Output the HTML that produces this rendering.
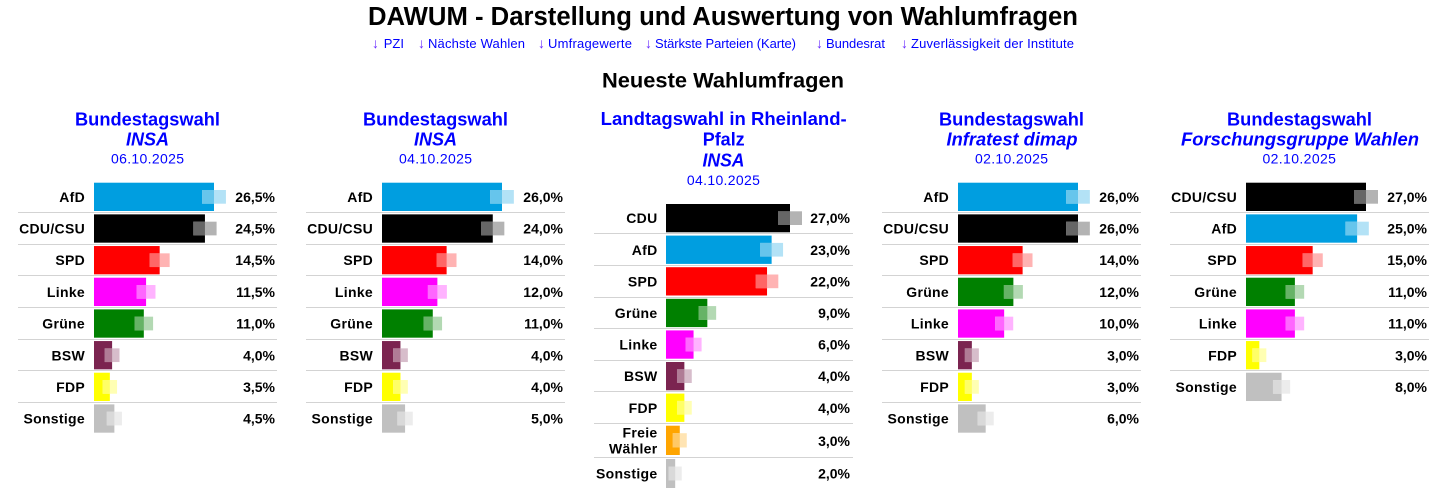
<!DOCTYPE html>
<html>
<head>
<meta charset="utf-8">
<style>
html,body{margin:0;padding:0;background:#fff;}
svg{display:block;}
text{font-family:"Liberation Sans",Arial,sans-serif;}
.t{font-weight:bold;font-size:25.5px;fill:#000;text-anchor:middle;}
.h{font-weight:bold;font-size:21.5px;fill:#000;text-anchor:middle;}
.ln{font-size:13px;fill:#0000ff;}
.ar{fill:#6a2cff;font-size:14px;}
.pt{font-weight:bold;font-size:18px;fill:#0000ff;text-anchor:middle;}
.pi{font-weight:bold;font-style:italic;font-size:18px;fill:#0000ff;text-anchor:middle;}
.pd{font-size:14px;fill:#0000ff;text-anchor:middle;}
.l{font-weight:bold;font-size:14px;fill:#000;text-anchor:end;letter-spacing:0.3px;}
.v{font-weight:bold;font-size:14px;fill:#000;text-anchor:end;}
.s{fill:#d3d3d3;}
</style>
</head>
<body>
<svg width="1444" height="488" viewBox="0 0 1444 488" xmlns="http://www.w3.org/2000/svg">
<rect x="0" y="0" width="1444" height="488" fill="#fff"/>

<!-- Header -->
<text class="t" x="723" y="25" textLength="710" lengthAdjust="spacingAndGlyphs">DAWUM - Darstellung und Auswertung von Wahlumfragen</text>

<text class="ln ar" x="372" y="48">↓</text><text class="ln" x="404" y="48" text-anchor="end">PZI</text>
<text class="ln ar" x="418" y="48">↓</text><text class="ln" x="428" y="48" textLength="97" lengthAdjust="spacing">Nächste Wahlen</text>
<text class="ln ar" x="538" y="48">↓</text><text class="ln" x="548" y="48" textLength="84" lengthAdjust="spacing">Umfragewerte</text>
<text class="ln ar" x="645" y="48">↓</text><text class="ln" x="655" y="48" textLength="141" lengthAdjust="spacing">Stärkste Parteien (Karte)</text>
<text class="ln ar" x="816" y="48">↓</text><text class="ln" x="826" y="48" textLength="59" lengthAdjust="spacing">Bundesrat</text>
<text class="ln ar" x="901" y="48">↓</text><text class="ln" x="911" y="48" textLength="163" lengthAdjust="spacing">Zuverlässigkeit der Institute</text>

<text class="h" x="723" y="87.3" textLength="242" lengthAdjust="spacingAndGlyphs">Neueste Wahlumfragen</text>

<!-- Panel titles -->
<text class="pt" x="147.5" y="125.7" textLength="145" lengthAdjust="spacingAndGlyphs">Bundestagswahl</text>
<text class="pi" x="147.5" y="145.7" textLength="43" lengthAdjust="spacingAndGlyphs">INSA</text>
<text class="pd" x="147.5" y="163.3" textLength="73" lengthAdjust="spacing">06.10.2025</text>

<text class="pt" x="435.5" y="125.7" textLength="145" lengthAdjust="spacingAndGlyphs">Bundestagswahl</text>
<text class="pi" x="435.5" y="145.7" textLength="43" lengthAdjust="spacingAndGlyphs">INSA</text>
<text class="pd" x="435.5" y="163.3" textLength="73" lengthAdjust="spacing">04.10.2025</text>

<text class="pt" x="723.7" y="125" textLength="246" lengthAdjust="spacingAndGlyphs">Landtagswahl in Rheinland-</text>
<text class="pt" x="723.7" y="145.7" textLength="42" lengthAdjust="spacingAndGlyphs">Pfalz</text>
<text class="pi" x="723.5" y="166.7" textLength="42" lengthAdjust="spacingAndGlyphs">INSA</text>
<text class="pd" x="723.4" y="185" textLength="73" lengthAdjust="spacing">04.10.2025</text>

<text class="pt" x="1011.5" y="125.7" textLength="145" lengthAdjust="spacingAndGlyphs">Bundestagswahl</text>
<text class="pi" x="1012" y="145.7" textLength="131" lengthAdjust="spacingAndGlyphs">Infratest dimap</text>
<text class="pd" x="1011.5" y="163.3" textLength="73" lengthAdjust="spacing">02.10.2025</text>

<text class="pt" x="1299.5" y="125.7" textLength="145" lengthAdjust="spacingAndGlyphs">Bundestagswahl</text>
<text class="pi" x="1300" y="145.7" textLength="238" lengthAdjust="spacingAndGlyphs">Forschungsgruppe Wahlen</text>
<text class="pd" x="1299.2" y="163.3" textLength="73.5" lengthAdjust="spacing">02.10.2025</text>

<!-- Panel 1 -->
<g transform="translate(18,0)">
<rect class="s" x="0" y="212" width="259" height="1"/>
<rect class="s" x="0" y="244" width="259" height="1"/>
<rect class="s" x="0" y="275" width="259" height="1"/>
<rect class="s" x="0" y="307" width="259" height="1"/>
<rect class="s" x="0" y="339" width="259" height="1"/>
<rect class="s" x="0" y="370" width="259" height="1"/>
<rect class="s" x="0" y="402" width="259" height="1"/>

<text class="l" x="67" y="201.9">AfD</text>
<rect x="76" y="182.7" width="120" height="28.3" fill="#009ee0"/>
<rect x="184.07" y="190" width="23.86" height="13.7" fill="#b3e2f6"/>
<rect x="184.07" y="190" width="11.93" height="13.7" fill="#66c5ec"/>
<text class="v" x="257" y="201.9">26,5%</text>

<text class="l" x="67" y="233.57">CDU/CSU</text>
<rect x="76" y="214.37" width="110.94" height="28.3" fill="#000"/>
<rect x="175.3" y="221.67" width="23.29" height="13.7" fill="#b3b3b3"/>
<rect x="175.3" y="221.67" width="11.65" height="13.7" fill="#666"/>
<text class="v" x="257" y="233.57">24,5%</text>

<text class="l" x="67" y="265.24">SPD</text>
<rect x="76" y="246.04" width="65.66" height="28.3" fill="#ff0000"/>
<rect x="131.66" y="253.34" width="20" height="13.7" fill="#ffb3b3"/>
<rect x="131.66" y="253.34" width="10" height="13.7" fill="#ff6666"/>
<text class="v" x="257" y="265.24">14,5%</text>

<text class="l" x="67" y="296.91">Linke</text>
<rect x="76" y="277.71" width="52.08" height="28.3" fill="#ff00ff"/>
<rect x="118.69" y="285.01" width="18.79" height="13.7" fill="#ffb3ff"/>
<rect x="118.69" y="285.01" width="9.4" height="13.7" fill="#ff66ff"/>
<text class="v" x="257" y="296.91">11,5%</text>

<text class="l" x="67" y="328.58">Grüne</text>
<rect x="76" y="309.38" width="49.81" height="28.3" fill="#008000"/>
<rect x="116.52" y="316.68" width="18.58" height="13.7" fill="#b3d9b3"/>
<rect x="116.52" y="316.68" width="9.29" height="13.7" fill="#66b366"/>
<text class="v" x="257" y="328.58">11,0%</text>

<text class="l" x="67" y="360.25">BSW</text>
<rect x="76" y="341.05" width="18.11" height="28.3" fill="#7b2450"/>
<rect x="86.73" y="348.35" width="14.77" height="13.7" fill="#d7bdcb"/>
<rect x="86.73" y="348.35" width="7.39" height="13.7" fill="#b07c96"/>
<text class="v" x="257" y="360.25">4,0%</text>

<text class="l" x="67" y="391.92">FDP</text>
<rect x="76" y="372.72" width="15.85" height="28.3" fill="#ffff00"/>
<rect x="84.65" y="380.02" width="14.4" height="13.7" fill="#ffffb3"/>
<rect x="84.65" y="380.02" width="7.2" height="13.7" fill="#ffff66"/>
<text class="v" x="257" y="391.92">3,5%</text>

<text class="l" x="67" y="423.59">Sonstige</text>
<rect x="76" y="404.39" width="20.38" height="28.3" fill="#c0c0c0"/>
<rect x="88.82" y="411.69" width="15.12" height="13.7" fill="#ececec"/>
<rect x="88.82" y="411.69" width="7.56" height="13.7" fill="#d9d9d9"/>
<text class="v" x="257" y="423.59">4,5%</text>
</g>

<!-- Panel 2 -->
<g transform="translate(306,0)">
<rect class="s" x="0" y="212" width="259" height="1"/>
<rect class="s" x="0" y="244" width="259" height="1"/>
<rect class="s" x="0" y="275" width="259" height="1"/>
<rect class="s" x="0" y="307" width="259" height="1"/>
<rect class="s" x="0" y="339" width="259" height="1"/>
<rect class="s" x="0" y="370" width="259" height="1"/>
<rect class="s" x="0" y="402" width="259" height="1"/>

<text class="l" x="67" y="201.9">AfD</text>
<rect x="76" y="182.7" width="120" height="28.3" fill="#009ee0"/>
<rect x="184.14" y="190" width="23.72" height="13.7" fill="#b3e2f6"/>
<rect x="184.14" y="190" width="11.86" height="13.7" fill="#66c5ec"/>
<text class="v" x="257" y="201.9">26,0%</text>

<text class="l" x="67" y="233.57">CDU/CSU</text>
<rect x="76" y="214.37" width="110.77" height="28.3" fill="#000"/>
<rect x="175.2" y="221.67" width="23.14" height="13.7" fill="#b3b3b3"/>
<rect x="175.2" y="221.67" width="11.57" height="13.7" fill="#666"/>
<text class="v" x="257" y="233.57">24,0%</text>

<text class="l" x="67" y="265.24">SPD</text>
<rect x="76" y="246.04" width="64.62" height="28.3" fill="#ff0000"/>
<rect x="130.72" y="253.34" width="19.8" height="13.7" fill="#ffb3b3"/>
<rect x="130.72" y="253.34" width="9.9" height="13.7" fill="#ff6666"/>
<text class="v" x="257" y="265.24">14,0%</text>

<text class="l" x="67" y="296.91">Linke</text>
<rect x="76" y="277.71" width="55.38" height="28.3" fill="#ff00ff"/>
<rect x="121.88" y="285.01" width="19" height="13.7" fill="#ffb3ff"/>
<rect x="121.88" y="285.01" width="9.5" height="13.7" fill="#ff66ff"/>
<text class="v" x="257" y="296.91">12,0%</text>

<text class="l" x="67" y="328.58">Grüne</text>
<rect x="76" y="309.38" width="50.77" height="28.3" fill="#008000"/>
<rect x="117.48" y="316.68" width="18.58" height="13.7" fill="#b3d9b3"/>
<rect x="117.48" y="316.68" width="9.29" height="13.7" fill="#66b366"/>
<text class="v" x="257" y="328.58">11,0%</text>

<text class="l" x="67" y="360.25">BSW</text>
<rect x="76" y="341.05" width="18.46" height="28.3" fill="#7b2450"/>
<rect x="87.08" y="348.35" width="14.77" height="13.7" fill="#d7bdcb"/>
<rect x="87.08" y="348.35" width="7.39" height="13.7" fill="#b07c96"/>
<text class="v" x="257" y="360.25">4,0%</text>

<text class="l" x="67" y="391.92">FDP</text>
<rect x="76" y="372.72" width="18.46" height="28.3" fill="#ffff00"/>
<rect x="87.08" y="380.02" width="14.77" height="13.7" fill="#ffffb3"/>
<rect x="87.08" y="380.02" width="7.39" height="13.7" fill="#ffff66"/>
<text class="v" x="257" y="391.92">4,0%</text>

<text class="l" x="67" y="423.59">Sonstige</text>
<rect x="76" y="404.39" width="23.08" height="28.3" fill="#c0c0c0"/>
<rect x="91.35" y="411.69" width="15.46" height="13.7" fill="#ececec"/>
<rect x="91.35" y="411.69" width="7.73" height="13.7" fill="#d9d9d9"/>
<text class="v" x="257" y="423.59">5,0%</text>
</g>

<!-- Panel 3 -->
<g transform="translate(594,0)">
<rect class="s" x="0" y="233" width="259" height="1"/>
<rect class="s" x="0" y="265" width="259" height="1"/>
<rect class="s" x="0" y="297" width="259" height="1"/>
<rect class="s" x="0" y="328" width="259" height="1"/>
<rect class="s" x="0" y="360" width="259" height="1"/>
<rect class="s" x="0" y="391" width="259" height="1"/>
<rect class="s" x="0" y="423" width="259" height="1"/>
<rect class="s" x="0" y="457" width="259" height="1"/>

<text class="l" x="63.5" y="223.2">CDU</text>
<rect x="72" y="204" width="124" height="28.3" fill="#000"/>
<rect x="184" y="211.3" width="24" height="13.7" fill="#b3b3b3"/>
<rect x="184" y="211.3" width="12" height="13.7" fill="#666"/>
<text class="v" x="256" y="223.2">27,0%</text>

<text class="l" x="63.5" y="254.8">AfD</text>
<rect x="72" y="235.6" width="105.63" height="28.3" fill="#009ee0"/>
<rect x="166.21" y="242.9" width="22.85" height="13.7" fill="#b3e2f6"/>
<rect x="166.21" y="242.9" width="11.43" height="13.7" fill="#66c5ec"/>
<text class="v" x="256" y="254.8">23,0%</text>

<text class="l" x="63.5" y="286.4">SPD</text>
<rect x="72" y="267.2" width="101.04" height="28.3" fill="#ff0000"/>
<rect x="161.77" y="274.5" width="22.54" height="13.7" fill="#ffb3b3"/>
<rect x="161.77" y="274.5" width="11.27" height="13.7" fill="#ff6666"/>
<text class="v" x="256" y="286.4">22,0%</text>

<text class="l" x="63.5" y="318">Grüne</text>
<rect x="72" y="298.8" width="41.33" height="28.3" fill="#008000"/>
<rect x="104.5" y="306.1" width="17.66" height="13.7" fill="#b3d9b3"/>
<rect x="104.5" y="306.1" width="8.83" height="13.7" fill="#66b366"/>
<text class="v" x="256" y="318">9,0%</text>

<text class="l" x="63.5" y="349.6">Linke</text>
<rect x="72" y="330.4" width="27.56" height="28.3" fill="#ff00ff"/>
<rect x="91.53" y="337.7" width="16.07" height="13.7" fill="#ffb3ff"/>
<rect x="91.53" y="337.7" width="8.03" height="13.7" fill="#ff66ff"/>
<text class="v" x="256" y="349.6">6,0%</text>

<text class="l" x="63.5" y="381.2">BSW</text>
<rect x="72" y="362" width="18.37" height="28.3" fill="#7b2450"/>
<rect x="82.99" y="369.3" width="14.77" height="13.7" fill="#d7bdcb"/>
<rect x="82.99" y="369.3" width="7.39" height="13.7" fill="#b07c96"/>
<text class="v" x="256" y="381.2">4,0%</text>

<text class="l" x="63.5" y="412.8">FDP</text>
<rect x="72" y="393.6" width="18.37" height="28.3" fill="#ffff00"/>
<rect x="82.99" y="400.9" width="14.77" height="13.7" fill="#ffffb3"/>
<rect x="82.99" y="400.9" width="7.39" height="13.7" fill="#ffff66"/>
<text class="v" x="256" y="412.8">4,0%</text>

<text class="l" x="63.5" y="437.7">Freie</text>
<text class="l" x="63.5" y="453.3">Wähler</text>
<rect x="72" y="425.7" width="13.78" height="29.3" fill="#ffa500"/>
<rect x="78.78" y="433.2" width="14" height="14.3" fill="#ffe4b3"/>
<rect x="78.78" y="433.2" width="7" height="14.3" fill="#ffc966"/>
<text class="v" x="256" y="446">3,0%</text>

<text class="l" x="63.5" y="478.4">Sonstige</text>
<rect x="72" y="459" width="9.19" height="29.3" fill="#c0c0c0"/>
<rect x="74.65" y="466.5" width="13.08" height="14" fill="#ececec"/>
<rect x="74.65" y="466.5" width="6.54" height="14" fill="#d9d9d9"/>
<text class="v" x="256" y="478.4">2,0%</text>
</g>

<!-- Panel 4 -->
<g transform="translate(882,0)">
<rect class="s" x="0" y="212" width="259" height="1"/>
<rect class="s" x="0" y="244" width="259" height="1"/>
<rect class="s" x="0" y="275" width="259" height="1"/>
<rect class="s" x="0" y="307" width="259" height="1"/>
<rect class="s" x="0" y="339" width="259" height="1"/>
<rect class="s" x="0" y="370" width="259" height="1"/>
<rect class="s" x="0" y="402" width="259" height="1"/>

<text class="l" x="67" y="201.9">AfD</text>
<rect x="76" y="182.7" width="120" height="28.3" fill="#009ee0"/>
<rect x="184.14" y="190" width="23.72" height="13.7" fill="#b3e2f6"/>
<rect x="184.14" y="190" width="11.86" height="13.7" fill="#66c5ec"/>
<text class="v" x="257" y="201.9">26,0%</text>

<text class="l" x="67" y="233.57">CDU/CSU</text>
<rect x="76" y="214.37" width="120" height="28.3" fill="#000"/>
<rect x="184.14" y="221.67" width="23.72" height="13.7" fill="#b3b3b3"/>
<rect x="184.14" y="221.67" width="11.86" height="13.7" fill="#666"/>
<text class="v" x="257" y="233.57">26,0%</text>

<text class="l" x="67" y="265.24">SPD</text>
<rect x="76" y="246.04" width="64.62" height="28.3" fill="#ff0000"/>
<rect x="130.72" y="253.34" width="19.8" height="13.7" fill="#ffb3b3"/>
<rect x="130.72" y="253.34" width="9.9" height="13.7" fill="#ff6666"/>
<text class="v" x="257" y="265.24">14,0%</text>

<text class="l" x="67" y="296.91">Grüne</text>
<rect x="76" y="277.71" width="55.38" height="28.3" fill="#008000"/>
<rect x="121.88" y="285.01" width="19" height="13.7" fill="#b3d9b3"/>
<rect x="121.88" y="285.01" width="9.5" height="13.7" fill="#66b366"/>
<text class="v" x="257" y="296.91">12,0%</text>

<text class="l" x="67" y="328.58">Linke</text>
<rect x="76" y="309.38" width="46.15" height="28.3" fill="#ff00ff"/>
<rect x="113.09" y="316.68" width="18.13" height="13.7" fill="#ffb3ff"/>
<rect x="113.09" y="316.68" width="9.07" height="13.7" fill="#ff66ff"/>
<text class="v" x="257" y="328.58">10,0%</text>

<text class="l" x="67" y="360.25">BSW</text>
<rect x="76" y="341.05" width="13.85" height="28.3" fill="#7b2450"/>
<rect x="82.85" y="348.35" width="14" height="13.7" fill="#d7bdcb"/>
<rect x="82.85" y="348.35" width="7" height="13.7" fill="#b07c96"/>
<text class="v" x="257" y="360.25">3,0%</text>

<text class="l" x="67" y="391.92">FDP</text>
<rect x="76" y="372.72" width="13.85" height="28.3" fill="#ffff00"/>
<rect x="82.85" y="380.02" width="14" height="13.7" fill="#ffffb3"/>
<rect x="82.85" y="380.02" width="7" height="13.7" fill="#ffff66"/>
<text class="v" x="257" y="391.92">3,0%</text>

<text class="l" x="67" y="423.59">Sonstige</text>
<rect x="76" y="404.39" width="27.69" height="28.3" fill="#c0c0c0"/>
<rect x="95.66" y="411.69" width="16.07" height="13.7" fill="#ececec"/>
<rect x="95.66" y="411.69" width="8.03" height="13.7" fill="#d9d9d9"/>
<text class="v" x="257" y="423.59">6,0%</text>
</g>

<!-- Panel 5 -->
<g transform="translate(1170,0)">
<rect class="s" x="0" y="212" width="259" height="1"/>
<rect class="s" x="0" y="244" width="259" height="1"/>
<rect class="s" x="0" y="275" width="259" height="1"/>
<rect class="s" x="0" y="307" width="259" height="1"/>
<rect class="s" x="0" y="339" width="259" height="1"/>
<rect class="s" x="0" y="370" width="259" height="1"/>

<text class="l" x="67" y="201.9">CDU/CSU</text>
<rect x="76" y="182.7" width="120" height="28.3" fill="#000"/>
<rect x="184" y="190" width="24" height="13.7" fill="#b3b3b3"/>
<rect x="184" y="190" width="12" height="13.7" fill="#666"/>
<text class="v" x="257" y="201.9">27,0%</text>

<text class="l" x="67" y="233.57">AfD</text>
<rect x="76" y="214.37" width="111.11" height="28.3" fill="#009ee0"/>
<rect x="175.39" y="221.67" width="23.44" height="13.7" fill="#b3e2f6"/>
<rect x="175.39" y="221.67" width="11.72" height="13.7" fill="#66c5ec"/>
<text class="v" x="257" y="233.57">25,0%</text>

<text class="l" x="67" y="265.24">SPD</text>
<rect x="76" y="246.04" width="66.67" height="28.3" fill="#ff0000"/>
<rect x="132.58" y="253.34" width="20.18" height="13.7" fill="#ffb3b3"/>
<rect x="132.58" y="253.34" width="10.09" height="13.7" fill="#ff6666"/>
<text class="v" x="257" y="265.24">15,0%</text>

<text class="l" x="67" y="296.91">Grüne</text>
<rect x="76" y="277.71" width="48.89" height="28.3" fill="#008000"/>
<rect x="115.6" y="285.01" width="18.58" height="13.7" fill="#b3d9b3"/>
<rect x="115.6" y="285.01" width="9.29" height="13.7" fill="#66b366"/>
<text class="v" x="257" y="296.91">11,0%</text>

<text class="l" x="67" y="328.58">Linke</text>
<rect x="76" y="309.38" width="48.89" height="28.3" fill="#ff00ff"/>
<rect x="115.6" y="316.68" width="18.58" height="13.7" fill="#ffb3ff"/>
<rect x="115.6" y="316.68" width="9.29" height="13.7" fill="#ff66ff"/>
<text class="v" x="257" y="328.58">11,0%</text>

<text class="l" x="67" y="360.25">FDP</text>
<rect x="76" y="341.05" width="13.33" height="28.3" fill="#ffff00"/>
<rect x="82.33" y="348.35" width="14" height="13.7" fill="#ffffb3"/>
<rect x="82.33" y="348.35" width="7" height="13.7" fill="#ffff66"/>
<text class="v" x="257" y="360.25">3,0%</text>

<text class="l" x="67" y="391.92">Sonstige</text>
<rect x="76" y="372.72" width="35.56" height="28.3" fill="#c0c0c0"/>
<rect x="102.98" y="380.02" width="17.17" height="13.7" fill="#ececec"/>
<rect x="102.98" y="380.02" width="8.58" height="13.7" fill="#d9d9d9"/>
<text class="v" x="257" y="391.92">8,0%</text>
</g>
</svg>
</body>
</html>
